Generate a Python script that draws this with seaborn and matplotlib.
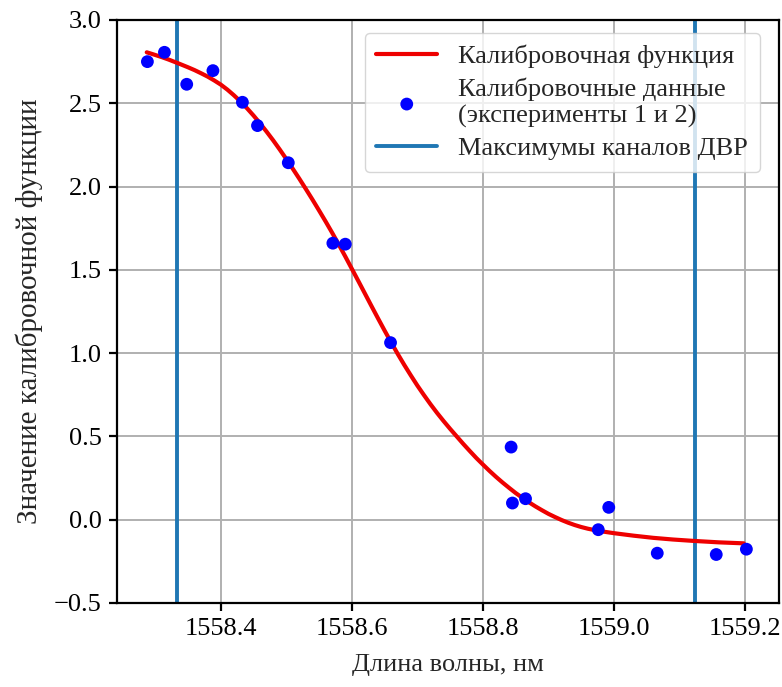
import matplotlib
matplotlib.use("Agg")
import matplotlib.pyplot as plt
import seaborn as sns
import pandas as pd

# Calibration data points (experiments 1 and 2)
data_x = [1558.288, 1558.314, 1558.348, 1558.388, 1558.433, 1558.456, 1558.503,
          1558.571, 1558.590, 1558.659, 1558.843, 1558.845, 1558.865, 1558.976,
          1558.992, 1559.066, 1559.156, 1559.202]
data_y = [2.750, 2.806, 2.614, 2.696, 2.506, 2.366, 2.143,
          1.660, 1.654, 1.063, 0.436, 0.100, 0.126, -0.060,
          0.074, -0.201, -0.209, -0.177]

# Calibration function
curve_x = [1558.287, 1558.300, 1558.310, 1558.320, 1558.335, 1558.350, 1558.360,
           1558.370, 1558.380, 1558.390, 1558.400, 1558.410, 1558.420, 1558.430,
           1558.440, 1558.450, 1558.460, 1558.470, 1558.480, 1558.490, 1558.500,
           1558.510, 1558.520, 1558.530, 1558.540, 1558.550, 1558.560, 1558.570,
           1558.580, 1558.590, 1558.600, 1558.610, 1558.620, 1558.630, 1558.640,
           1558.650, 1558.660, 1558.670, 1558.680, 1558.690, 1558.700, 1558.710,
           1558.720, 1558.730, 1558.740, 1558.750, 1558.760, 1558.770, 1558.780,
           1558.790, 1558.800, 1558.810, 1558.820, 1558.830, 1558.840, 1558.850,
           1558.860, 1558.870, 1558.880, 1558.890, 1558.900, 1558.910, 1558.920,
           1558.930, 1558.940, 1558.950, 1558.960, 1558.976, 1559.000, 1559.030,
           1559.060, 1559.090, 1559.120, 1559.160, 1559.198]
curve_y = [2.806, 2.790, 2.777, 2.763, 2.740, 2.716, 2.699,
           2.680, 2.660, 2.637, 2.612, 2.582, 2.548, 2.511,
           2.470, 2.426, 2.379, 2.329, 2.277, 2.222, 2.165,
           2.106, 2.046, 1.984, 1.921, 1.856, 1.790, 1.722,
           1.652, 1.580, 1.506, 1.432, 1.357, 1.282, 1.208,
           1.135, 1.064, 0.995, 0.929, 0.866, 0.805, 0.748,
           0.693, 0.641, 0.592, 0.545, 0.500, 0.455, 0.412,
           0.370, 0.331, 0.293, 0.257, 0.223, 0.191, 0.160,
           0.132, 0.105, 0.080, 0.057, 0.035, 0.016, -0.002,
           -0.018, -0.032, -0.044, -0.054, -0.067, -0.081, -0.096,
           -0.109, -0.119, -0.127, -0.136, -0.142]

# DWDM channel maxima
channel_max = [1558.333, 1559.124]

labels = ["Калибровочная функция",
          "Калибровочные данные\n(эксперименты 1 и 2)",
          "Максимумы каналов ДВР"]
xlabel = "Длина волны, нм"
ylabel = "Значение калибровочной функции"

sns.set_theme(style="ticks")
plt.rcParams["font.family"] = ["Liberation Serif", "DejaVu Serif"]
plt.rcParams["axes.unicode_minus"] = True

fig = plt.figure(figsize=(7.82, 6.87), dpi=100)
ax = fig.add_axes([0.1496, 0.1223, 0.8466, 0.8486])

df_curve = pd.DataFrame({"x": curve_x, "y": curve_y})
df_data = pd.DataFrame({"x": data_x, "y": data_y})

sns.lineplot(data=df_curve, x="x", y="y", ax=ax, color="#ee0000", lw=3,
             label=labels[0], zorder=3, sort=False)
sns.scatterplot(data=df_data, x="x", y="y", ax=ax, color="blue", s=85,
                edgecolor="none", label=labels[1], zorder=4)
for i, xv in enumerate(channel_max):
    ax.axvline(xv, color="#1f77b4", lw=2.8, zorder=2,
               label=labels[2] if i == 0 else None)

ax.set_ylim(-0.5, 3.0)
ax.set_xlim(1558.2416, 1559.2518)
ax.set_xticks([1558.4, 1558.6, 1558.8, 1559.0, 1559.2])
ax.set_xticklabels(["1558.4", "1558.6", "1558.8", "1559.0", "1559.2"])
ax.set_yticks([-0.5, 0.0, 0.5, 1.0, 1.5, 2.0, 2.5, 3.0])
ax.set_yticklabels(["\u22120.5", "0.0", "0.5", "1.0", "1.5", "2.0", "2.5", "3.0"])

ax.grid(True, color="#b0b0b0", lw=1.4)
ax.set_axisbelow(True)
for sp in ax.spines.values():
    sp.set_visible(True)
    sp.set_color("black")
    sp.set_linewidth(1.6)
ax.tick_params(axis="both", direction="out", length=6, width=1.6,
               labelsize=19, colors="black", pad=5)

ax.set_xlabel(xlabel, fontsize=19, labelpad=10)
ax.set_ylabel(ylabel, fontsize=21, labelpad=8)

leg = ax.legend(loc="upper right", bbox_to_anchor=(0.971, 0.978),
                fontsize=19, frameon=True, framealpha=0.8,
                edgecolor="#cccccc", fancybox=True, handlelength=2.3,
                borderpad=0.45, labelspacing=0.35, handletextpad=0.8,
                borderaxespad=0.0)

fig.savefig("out.png", dpi=100)
